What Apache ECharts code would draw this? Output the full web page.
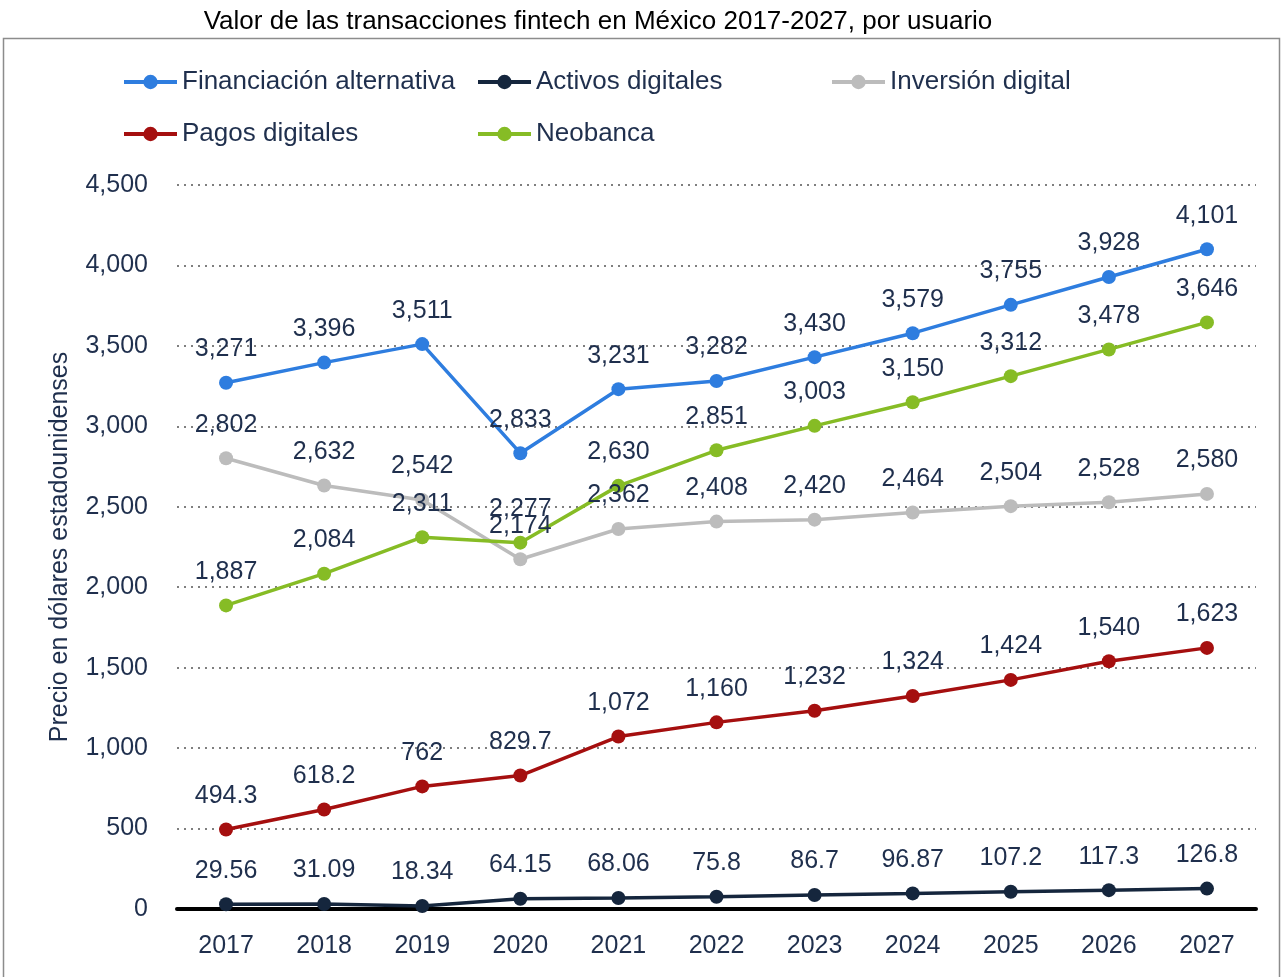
<!DOCTYPE html>
<html><head><meta charset="utf-8">
<script src="https://cdn.jsdelivr.net/npm/echarts@6/dist/echarts.min.js"></script>
<style>html,body{margin:0;padding:0;background:#fff}#c{width:1286px;height:977px}</style>
</head><body><div id="c"></div>
<script>
const years = ['2017','2018','2019','2020','2021','2022','2023','2024','2025','2026','2027'];
const financiacion = [3271, 3396, 3511, 2833, 3231, 3282, 3430, 3579, 3755, 3928, 4101];
const activos = [29.56, 31.09, 18.34, 64.15, 68.06, 75.8, 86.7, 96.87, 107.2, 117.3, 126.8];
const inversion = [2802, 2632, 2542, 2174, 2362, 2408, 2420, 2464, 2504, 2528, 2580];
const pagos = [494.3, 618.2, 762, 829.7, 1072, 1160, 1232, 1324, 1424, 1540, 1623];
const neobanca = [1887, 2084, 2311, 2277, 2630, 2851, 3003, 3150, 3312, 3478, 3646];
const seriesNames = ['Financiación alternativa','Activos digitales','Inversión digital','Pagos digitales','Neobanca'];
const colors = ['#2e7ddf','#15263d','#bcbcbc','#a50f0f','#86bc25'];

const txt = '#1f2f4d';
const font = "'Liberation Sans', Arial, sans-serif";
const fmt = v => v >= 1000 ? v.toLocaleString('en-US') : String(v);

const dataArr = [financiacion, activos, inversion, pagos, neobanca];
const legendPos = [[122,69],[476,69],[830,69],[122,121],[476,121]];

const chart = echarts.init(document.getElementById('c'), null, {renderer:'canvas'});
chart.setOption({
  animation:false,
  textStyle:{fontFamily:font},
  title:{text:'Valor de las transacciones fintech en México 2017-2027, por usuario', left:593, textAlign:'center', top:4,
    textStyle:{fontSize:26, fontWeight:'normal', color:'#000', fontFamily:font}},
  graphic:[{type:'rect', shape:{x:3.5,y:38.5,width:1276,height:960}, style:{fill:'none', stroke:'#8c8c8c', lineWidth:1.5}, silent:true, z:-1}],
  legend: seriesNames.map((n,i)=>({data:[n], left:legendPos[i][0], top:legendPos[i][1], padding:0, itemWidth:53, itemHeight:18, itemGap:5,
    lineStyle:{width:4}, itemStyle:{borderWidth:0},
    textStyle:{fontSize:26, color:txt, fontFamily:font}})),
  grid:{left:177, right:30, top:185, bottom:68},
  xAxis:{type:'category', data:years, boundaryGap:true,
    axisLine:{lineStyle:{color:'#000', width:4}}, axisTick:{show:false},
    axisLabel:{fontSize:25, color:txt, margin:25, fontFamily:font}},
  yAxis:{type:'value', min:0, max:4500, interval:500,
    name:'Precio en dólares estadounidenses', nameLocation:'middle', nameGap:104, nameRotate:90,
    nameTextStyle:{fontSize:25, color:txt, fontFamily:font},
    axisLine:{show:false}, axisTick:{show:false},
    axisLabel:{fontSize:25, color:txt, margin:29, fontFamily:font, formatter:v=>v.toLocaleString('en-US')},
    splitLine:{lineStyle:{type:[2,5], color:'#555', width:1.5}}},
  series: seriesNames.map((n,i)=>({
    name:n, type:'line', data:dataArr[i], symbol:'circle', symbolSize:14,
    lineStyle:{width:3.5, color:colors[i]}, itemStyle:{color:colors[i]},
    label:{show:true, position:'top', distance:14, fontSize:25, color:txt, fontFamily:font, formatter:p=>fmt(p.value)}
  }))
});
</script></body></html>
